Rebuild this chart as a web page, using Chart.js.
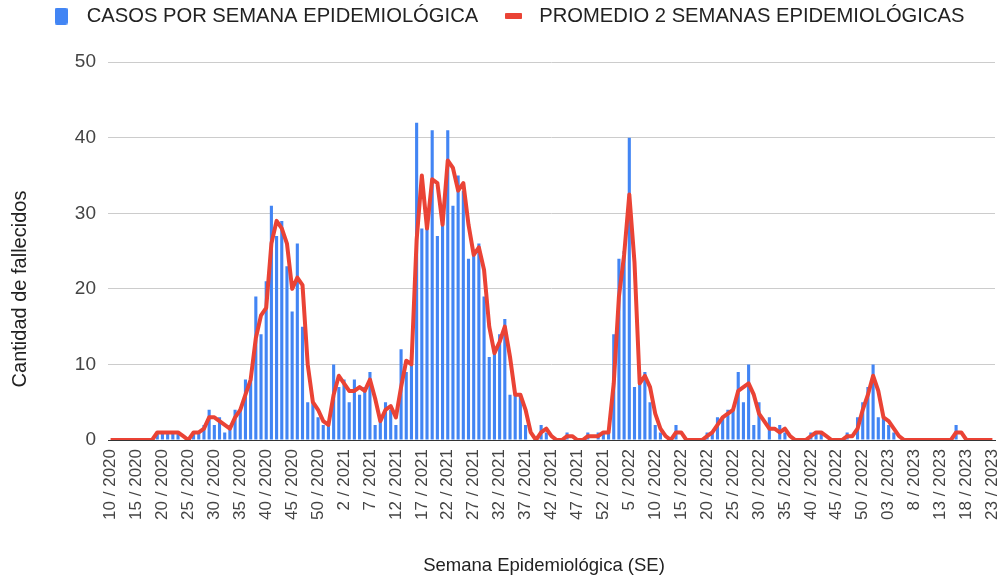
<!DOCTYPE html>
<html>
<head>
<meta charset="utf-8">
<script src="https://cdn.jsdelivr.net/npm/chart.js@4.4.1/dist/chart.umd.min.js"></script>
<style>
  html, body { margin: 0; padding: 0; background: #fff; }
  #container { width: 1000px; height: 578px; position: relative; }
</style>
</head>
<body>
<div id="container"><canvas id="myChart"></canvas></div>
<script>
// semanas epidemiologicas: 10/2020 .. 23/2023
const anios = [2020, 2021, 2022, 2023]
const semanaInicio = [10, 1, 1, 1]
const semanaFin = [53, 52, 52, 23]

const tickLabels = [
  '10 / 2020', '15 / 2020', '20 / 2020', '25 / 2020', '30 / 2020', '35 / 2020', '40 / 2020', '45 / 2020', '50 / 2020',
  '2 / 2021', '7 / 2021', '12 / 2021', '17 / 2021', '22 / 2021', '27 / 2021', '32 / 2021', '37 / 2021', '42 / 2021', '47 / 2021', '52 / 2021',
  '5 / 2022', '10 / 2022', '15 / 2022', '20 / 2022', '25 / 2022', '30 / 2022', '35 / 2022', '40 / 2022', '45 / 2022', '50 / 2022',
  '03 / 2023', '8 / 2023', '13 / 2023', '18 / 2023', '23 / 2023'
]

const casos2020 = [0, 0, 0, 0, 0, 0, 0, 0, 0, 1, 1, 1, 1, 1, 0, 0, 1, 1, 2, 4, 2, 3, 1, 2, 4, 4, 8, 8, 19, 14,
  21, 31, 27, 29, 23, 17, 26, 15, 5, 5, 3, 2, 2, 10]
const casos2021 = [7, 8, 5, 8, 6, 7, 9, 2, 3, 5, 4, 2, 12, 9, 11, 42, 28, 28, 41, 27, 30, 41, 31, 35, 33, 24,
  25, 26, 19, 11, 12, 14, 16, 6, 6, 6, 2, 0, 0, 2, 1, 0, 0, 0, 1, 0, 0, 0, 1, 0, 1, 1]
const casos2022 = [1, 14, 24, 25, 40, 7, 8, 9, 5, 2, 1, 0, 0, 2, 0, 0, 0, 0, 0, 1, 1, 3, 3, 4, 4, 9, 5, 10, 2, 5,
  0, 3, 0, 2, 1, 0, 0, 0, 0, 1, 1, 1, 0, 0, 0, 0, 1, 0, 3, 5, 7, 10]
const casos2023 = [3, 3, 2, 1, 0, 0, 0, 0, 0, 0, 0, 0, 0, 0, 0, 2, 0, 0, 0, 0, 0, 0, 0]

const promedio2020 = [0, 0, 0, 0, 0, 0, 0, 0, 0, 1, 1, 1, 1, 1, 0.5, 0, 1, 1, 1.5, 3, 3, 2.5, 2, 1.5, 3, 4, 6, 8,
  13.5, 16.5, 17.5, 26, 29, 28, 26, 20, 21.5, 20.5, 10, 5, 4, 2.5, 2, 6]
const promedio2021 = [8.5, 7.5, 6.5, 6.5, 7, 6.5, 8, 5.5, 2.5, 4, 4.5, 3, 7, 10.5, 10, 26.5, 35, 28, 34.5, 34,
  28.5, 37, 36, 33, 34, 28.5, 24.5, 25.5, 22.5, 15, 11.5, 13, 15, 11, 6, 6, 4, 1, 0, 1, 1.5, 0.5, 0, 0, 0.5, 0.5,
  0, 0, 0.5, 0.5, 0.5, 1]
const promedio2022 = [1, 7.5, 19, 24.5, 32.5, 23.5, 7.5, 8.5, 7, 3.5, 1.5, 0.5, 0, 1, 1, 0, 0, 0, 0, 0.5, 1, 2, 3,
  3.5, 4, 6.5, 7, 7.5, 6, 3.5, 2.5, 1.5, 1.5, 1, 1.5, 0.5, 0, 0, 0, 0.5, 1, 1, 0.5, 0, 0, 0, 0.5, 0.5, 1.5, 4, 6, 8.5]
const promedio2023 = [6.5, 3, 2.5, 1.5, 0.5, 0, 0, 0, 0, 0, 0, 0, 0, 0, 0, 1, 1, 0, 0, 0, 0, 0, 0]

let semanas = []
for (let k = 0; k < anios.length; k++) {
  for (let s = semanaInicio[k]; s <= semanaFin[k]; s++) {
    semanas.push(s + ' / ' + anios[k])
  }
}

const casos = [...casos2020, ...casos2021, ...casos2022, ...casos2023]
const promedio = [...promedio2020, ...promedio2021, ...promedio2022, ...promedio2023]

const azul = '#4285f4'
const rojo = '#ea4335'
const fuente = "'Liberation Sans', Arial, sans-serif"

Chart.defaults.font.family = fuente

function marca(color, w, h, r) {
  let c = document.createElement('canvas')
  c.width = w
  c.height = h
  let g = c.getContext('2d')
  g.fillStyle = color
  g.beginPath()
  if (g.roundRect) g.roundRect(0, 0, w, h, r)
  else g.rect(0, 0, w, h)
  g.fill()
  return c
}
const marcaCasos = marca(azul, 13, 17, 2)
const marcaPromedio = marca(rojo, 17, 6, 1)

const ajusteLeyenda = {
  id: 'ajusteLeyenda',
  afterLayout(chart) {
    chart.legend.top -= 26
    chart.legend.bottom -= 26
  }
}

// titulos de los ejes, ubicados como en la imagen
const titulos = {
  id: 'titulos',
  afterDraw(chart) {
    let ctx = chart.ctx
    ctx.save()
    ctx.fillStyle = '#222'
    ctx.textAlign = 'center'
    ctx.textBaseline = 'middle'
    ctx.font = '18.5px ' + fuente
    ctx.fillText('Semana Epidemiológica (SE)', 544, 566)
    ctx.translate(20, 289)
    ctx.rotate(-Math.PI / 2)
    ctx.font = '20px ' + fuente
    ctx.fillText('Cantidad de fallecidos', 0, 0)
    ctx.restore()
  }
}

const data = {
  labels: semanas,
  datasets: [
    {
      type: 'bar',
      label: 'CASOS POR SEMANA EPIDEMIOLÓGICA',
      data: casos,
      backgroundColor: azul,
      barPercentage: 0.6,
      categoryPercentage: 1,
      order: 1
    },
    {
      type: 'line',
      label: 'PROMEDIO 2 SEMANAS EPIDEMIOLÓGICAS',
      data: promedio,
      borderColor: rojo,
      backgroundColor: rojo,
      borderWidth: 4,
      pointRadius: 0,
      tension: 0,
      borderJoinStyle: 'round',
      order: 0
    }
  ]
}

const config = {
  data: data,
  plugins: [ajusteLeyenda, titulos],
  options: {
    responsive: true,
    maintainAspectRatio: false,
    animation: false,
    layout: { padding: { left: 15, right: 5, top: 12, bottom: 0 } },
    plugins: {
      tooltip: { enabled: false },
      legend: {
        position: 'top',
        labels: {
          usePointStyle: true,
          pointStyleWidth: 31,
          padding: 20,
          color: '#222',
          font: { size: 20.2 },
          generateLabels: function (chart) {
            let items = Chart.defaults.plugins.legend.labels.generateLabels(chart)
            items.sort((a, b) => a.datasetIndex - b.datasetIndex)
            items[0].pointStyle = marcaCasos
            items[1].pointStyle = marcaPromedio
            return items
          }
        }
      }
    },
    scales: {
      x: {
        offset: true,
        grid: { display: false, drawTicks: false },
        border: { display: true, color: '#333', width: 1 },
        ticks: {
          autoSkip: false,
          minRotation: 90,
          maxRotation: 90,
          padding: 9,
          color: '#444',
          font: { size: 17 },
          callback: function (value, index) {
            return index % 5 === 0 ? tickLabels[index / 5] : ''
          }
        },
        afterFit: function (scale) {
          scale.height = 138
          scale.paddingLeft = 0
          scale.paddingRight = 0
        }
      },
      y: {
        min: 0,
        max: 50,
        ticks: { stepSize: 10, padding: 12, color: '#444', font: { size: 19 } },
        grid: {
          drawTicks: false,
          color: (ctx) => ctx.tick && ctx.tick.value === 0 ? '#333' : '#cccccc'
        },
        border: { display: false },
        afterFit: function (scale) { scale.width = 93 }
      }
    }
  }
}

const myChart = new Chart(document.getElementById('myChart'), config)
</script>
</body>
</html>
